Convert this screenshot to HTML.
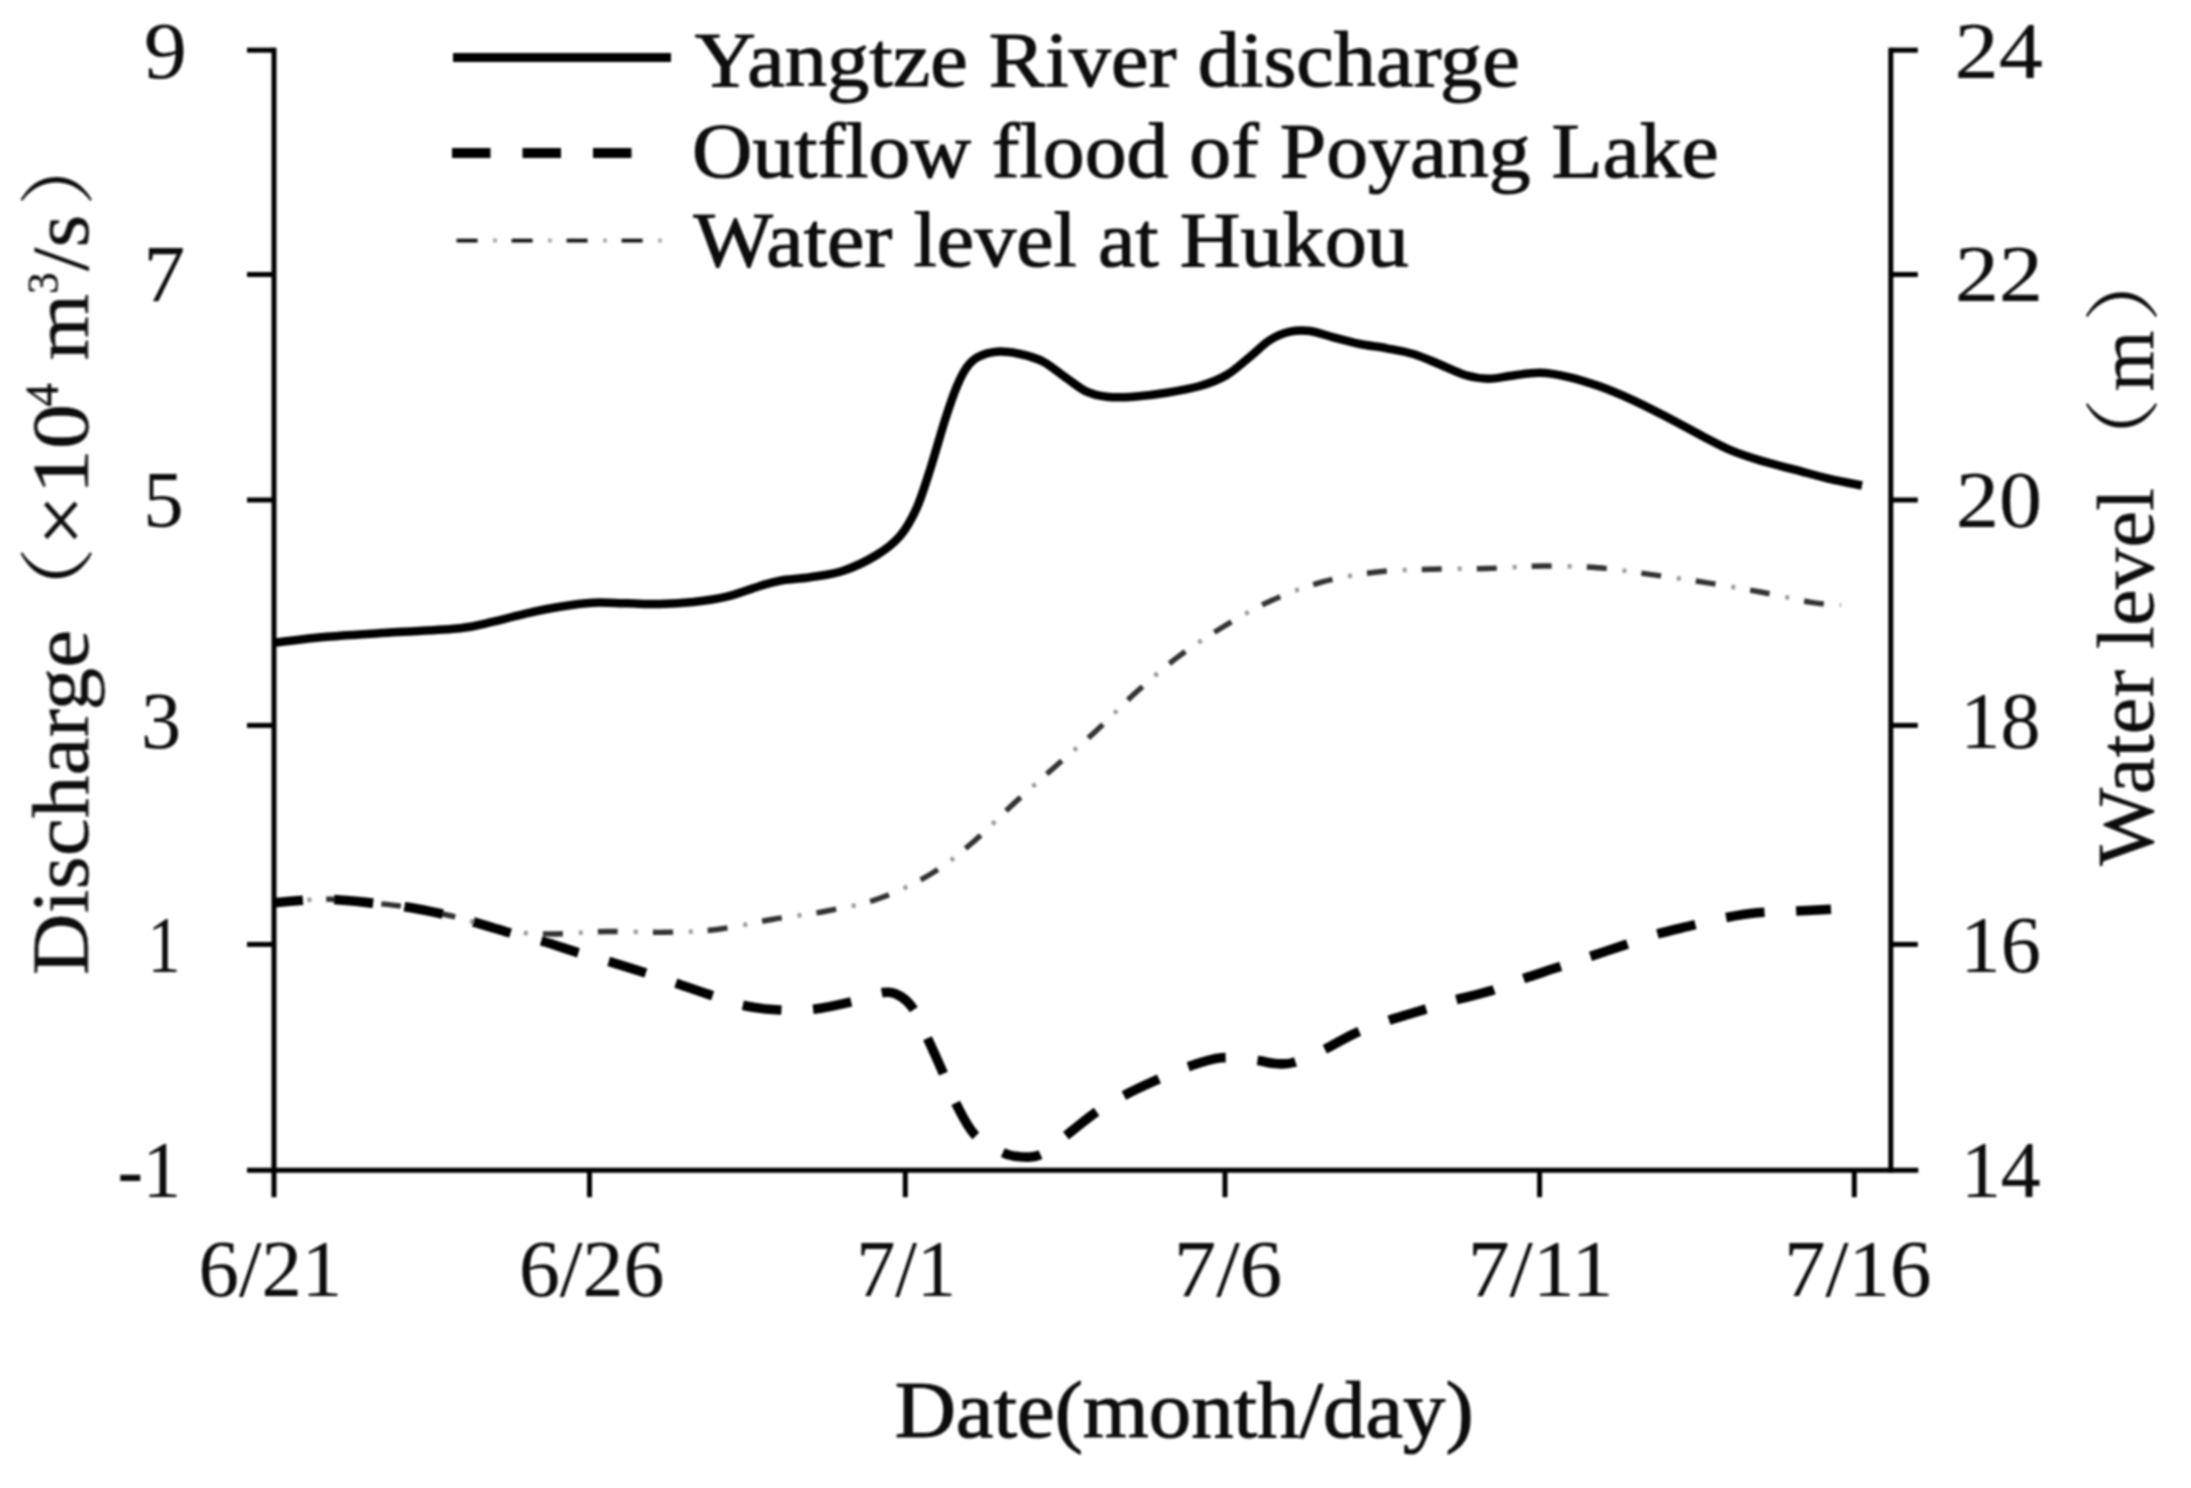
<!DOCTYPE html><html><head><meta charset="utf-8"><title>Discharge and water level</title>
<style>html,body{margin:0;padding:0;background:#fff;}body{width:2191px;height:1488px;overflow:hidden;}svg{display:block;}text{font-family:"Liberation Serif","Noto Serif CJK SC",serif;fill:#111;stroke:#111;stroke-width:1.1px;stroke-linejoin:round;}text.cjk{font-family:"Noto Serif CJK SC","Noto Sans CJK SC",serif;stroke-width:0px;}text.v{stroke-width:0.4px;}text.v tspan.cjk{font-family:"Noto Serif CJK SC","Noto Sans CJK SC",serif;stroke-width:0px;}text.d{stroke-width:0.2px;}</style></head><body>
<svg width="2191" height="1488" viewBox="0 0 2191 1488">
<defs><filter id="soft" x="-2%" y="-2%" width="104%" height="104%"><feGaussianBlur stdDeviation="1.3"/></filter></defs>
<rect width="100%" height="100%" fill="#fff"/>
<g filter="url(#soft)">
<g stroke="#000" stroke-width="5" fill="none" stroke-linecap="butt">
<line x1="274" y1="47.7" x2="274" y2="1197.2"/>
<line x1="1890.8" y1="47.7" x2="1890.8" y2="1172.7"/>
<line x1="247" y1="1170.2" x2="1918.3" y2="1170.2"/>
<line x1="247" y1="50.2" x2="274" y2="50.2"/>
<line x1="1890.8" y1="50.2" x2="1917.8" y2="50.2"/>
<line x1="247" y1="274.5" x2="274" y2="274.5"/>
<line x1="1890.8" y1="274.5" x2="1917.8" y2="274.5"/>
<line x1="247" y1="500" x2="274" y2="500"/>
<line x1="1890.8" y1="500" x2="1917.8" y2="500"/>
<line x1="247" y1="725.4" x2="274" y2="725.4"/>
<line x1="1890.8" y1="725.4" x2="1917.8" y2="725.4"/>
<line x1="247" y1="944.4" x2="274" y2="944.4"/>
<line x1="1890.8" y1="944.4" x2="1917.8" y2="944.4"/>
<line x1="589.5" y1="1170.2" x2="589.5" y2="1197.2"/>
<line x1="905.3" y1="1170.2" x2="905.3" y2="1197.2"/>
<line x1="1225" y1="1170.2" x2="1225" y2="1197.2"/>
<line x1="1539.6" y1="1170.2" x2="1539.6" y2="1197.2"/>
<line x1="1854.3" y1="1170.2" x2="1854.3" y2="1197.2"/>
</g>
<text class="d" transform="translate(143.96,77.50) scale(1.0561,1)" font-size="81">9</text>
<text class="d" transform="translate(143.39,301.20) scale(1.0303,1)" font-size="81">7</text>
<text class="d" transform="translate(143.18,527.30) scale(0.9938,1)" font-size="81">5</text>
<text class="d" transform="translate(141.08,747.50) scale(0.9910,1)" font-size="81">3</text>
<text class="d" transform="translate(147.65,972.10) scale(0.8070,1)" font-size="81">1</text>
<text class="d" transform="translate(117.48,1196.70) scale(0.9406,1)" font-size="81">-1</text>
<text class="d" transform="translate(1954.48,77.50) scale(1.0911,1)" font-size="81">24</text>
<text class="d" transform="translate(1955.00,301.20) scale(1.0849,1)" font-size="81">22</text>
<text class="d" transform="translate(1955.99,527.30) scale(1.0604,1)" font-size="81">20</text>
<text class="d" transform="translate(1960.59,747.50) scale(0.9873,1)" font-size="81">18</text>
<text class="d" transform="translate(1960.57,972.10) scale(0.9902,1)" font-size="81">16</text>
<text class="d" transform="translate(1960.90,1196.70) scale(0.9856,1)" font-size="81">14</text>
<text class="d" transform="translate(198.61,1296.20) scale(0.9967,1)" font-size="81">6/21</text>
<text class="d" transform="translate(518.96,1296.20) scale(1.0101,1)" font-size="81">6/26</text>
<text class="d" transform="translate(856.24,1296.20) scale(0.9647,1)" font-size="81">7/1</text>
<text class="d" transform="translate(1173.80,1296.20) scale(1.0486,1)" font-size="81">7/6</text>
<text class="d" transform="translate(1467.68,1296.20) scale(1.0328,1)" font-size="81">7/11</text>
<text class="d" transform="translate(1783.92,1296.20) scale(1.0239,1)" font-size="81">7/16</text>
<text transform="translate(894.65,1437.30) scale(1.0466,1)" font-size="81">Date(month/day)</text>
<text class="v" transform="translate(87.70,0) rotate(-90)"><tspan x="-975.18" y="0.00" font-size="81" textLength="345.37" lengthAdjust="spacingAndGlyphs">Discharge</tspan><tspan class="cjk" x="-637.17" y="-3.00" font-size="76" textLength="90.85" lengthAdjust="spacingAndGlyphs">（</tspan><tspan x="-545.90" y="0.00" font-size="81" textLength="142.18" lengthAdjust="spacingAndGlyphs">×10</tspan><tspan x="-406.77" y="-30.00" font-size="46" textLength="23.53" lengthAdjust="spacingAndGlyphs">4</tspan><tspan x="-360.46" y="0.00" font-size="81" textLength="66.78" lengthAdjust="spacingAndGlyphs">m</tspan><tspan x="-293.97" y="-30.00" font-size="44" textLength="21.70" lengthAdjust="spacingAndGlyphs">3</tspan><tspan x="-271.00" y="0.00" font-size="81" textLength="56.15" lengthAdjust="spacingAndGlyphs">/s</tspan><tspan class="cjk" x="-206.24" y="-3.00" font-size="76" textLength="83.86" lengthAdjust="spacingAndGlyphs">）</tspan></text>
<text class="v" transform="translate(2153.00,0) rotate(-90)"><tspan x="-866.00" y="0.00" font-size="81" textLength="378.15" lengthAdjust="spacingAndGlyphs">Water level</tspan><tspan class="cjk" x="-483.26" y="-3.00" font-size="76" textLength="85.61" lengthAdjust="spacingAndGlyphs">（</tspan><tspan x="-391.39" y="0.00" font-size="81" textLength="60.90" lengthAdjust="spacingAndGlyphs">m</tspan><tspan class="cjk" x="-322.62" y="-3.00" font-size="76" textLength="86.66" lengthAdjust="spacingAndGlyphs">）</tspan></text>
<line x1="453" y1="57.5" x2="671" y2="57.5" stroke="#000" stroke-width="9"/>
<line x1="452" y1="153" x2="640" y2="153" stroke="#000" stroke-width="10" stroke-dasharray="38.5 32"/>
<line x1="456.6" y1="240.6" x2="668" y2="240.6" stroke="#aaa" stroke-width="4" stroke-dasharray="4 51" stroke-dashoffset="-36.4"/>
<line x1="456.6" y1="240.6" x2="668" y2="240.6" stroke="#111" stroke-width="3.6" stroke-dasharray="21 34"/>
<text transform="translate(694.70,86.00) scale(1.0697,1)" font-size="79">Yangtze River discharge</text>
<text transform="translate(692.06,176.50) scale(1.0589,1)" font-size="79">Outflow flood of Poyang Lake</text>
<text transform="translate(693.60,266.00) scale(1.0653,1)" font-size="79">Water level at Hukou</text>
<path id="cw2" d="M274.0,902.7 C279.4,902.2 297.1,900.6 306.7,900.0 C316.3,899.4 320.3,898.8 331.7,899.3 C343.1,899.8 362.2,902.0 375.0,903.3 C387.8,904.6 395.5,905.2 408.3,907.3 C421.1,909.4 440.6,913.5 451.7,916.0 C462.8,918.5 465.0,919.7 475.0,922.3 C485.0,924.9 498.7,929.5 511.7,931.5 C524.7,933.5 537.2,934.0 553.0,934.0 C568.8,934.0 588.0,931.8 606.7,931.5 C625.4,931.2 646.7,932.6 665.0,932.3 C683.3,932.0 698.9,931.6 716.7,929.5 C734.5,927.4 753.4,922.6 771.7,919.5 C790.0,916.4 808.9,914.5 826.7,911.0 C844.5,907.5 861.1,904.9 878.3,898.8 C895.5,892.7 914.4,883.8 930.0,874.5 C945.6,865.2 957.8,855.0 971.7,843.3 C985.6,831.5 999.4,816.8 1013.3,804.0 C1027.2,791.2 1041.2,778.9 1055.0,766.7 C1068.8,754.5 1082.7,743.2 1096.0,731.0 C1109.3,718.8 1121.3,705.7 1135.0,693.3 C1148.7,680.9 1163.6,667.8 1178.3,656.7 C1193.0,645.6 1207.8,636.1 1223.3,626.7 C1238.8,617.3 1254.8,608.0 1271.5,600.5 C1288.2,593.0 1305.7,586.5 1323.3,581.7 C1340.9,577.0 1359.0,574.1 1377.0,572.0 C1395.0,569.9 1413.2,569.8 1431.5,569.2 C1449.8,568.6 1468.6,569.0 1487.0,568.5 C1505.4,568.0 1523.5,566.1 1542.0,566.0 C1560.5,565.9 1579.8,566.4 1598.0,567.8 C1616.2,569.2 1633.5,572.1 1651.5,574.6 C1669.5,577.1 1687.8,579.7 1706.0,582.6 C1724.2,585.5 1742.7,588.7 1760.5,592.0 C1778.3,595.3 1799.6,600.4 1813.0,602.6 C1826.4,604.8 1836.3,604.6 1841.0,605.0" fill="none" stroke="#999" stroke-width="4.5" stroke-dasharray="4 51" stroke-dashoffset="-33.4"/>
<path id="cw" d="M274.0,902.7 C279.4,902.2 297.1,900.6 306.7,900.0 C316.3,899.4 320.3,898.8 331.7,899.3 C343.1,899.8 362.2,902.0 375.0,903.3 C387.8,904.6 395.5,905.2 408.3,907.3 C421.1,909.4 440.6,913.5 451.7,916.0 C462.8,918.5 465.0,919.7 475.0,922.3 C485.0,924.9 498.7,929.5 511.7,931.5 C524.7,933.5 537.2,934.0 553.0,934.0 C568.8,934.0 588.0,931.8 606.7,931.5 C625.4,931.2 646.7,932.6 665.0,932.3 C683.3,932.0 698.9,931.6 716.7,929.5 C734.5,927.4 753.4,922.6 771.7,919.5 C790.0,916.4 808.9,914.5 826.7,911.0 C844.5,907.5 861.1,904.9 878.3,898.8 C895.5,892.7 914.4,883.8 930.0,874.5 C945.6,865.2 957.8,855.0 971.7,843.3 C985.6,831.5 999.4,816.8 1013.3,804.0 C1027.2,791.2 1041.2,778.9 1055.0,766.7 C1068.8,754.5 1082.7,743.2 1096.0,731.0 C1109.3,718.8 1121.3,705.7 1135.0,693.3 C1148.7,680.9 1163.6,667.8 1178.3,656.7 C1193.0,645.6 1207.8,636.1 1223.3,626.7 C1238.8,617.3 1254.8,608.0 1271.5,600.5 C1288.2,593.0 1305.7,586.5 1323.3,581.7 C1340.9,577.0 1359.0,574.1 1377.0,572.0 C1395.0,569.9 1413.2,569.8 1431.5,569.2 C1449.8,568.6 1468.6,569.0 1487.0,568.5 C1505.4,568.0 1523.5,566.1 1542.0,566.0 C1560.5,565.9 1579.8,566.4 1598.0,567.8 C1616.2,569.2 1633.5,572.1 1651.5,574.6 C1669.5,577.1 1687.8,579.7 1706.0,582.6 C1724.2,585.5 1742.7,588.7 1760.5,592.0 C1778.3,595.3 1799.6,600.4 1813.0,602.6 C1826.4,604.8 1836.3,604.6 1841.0,605.0" fill="none" stroke="#333" stroke-width="5.4" stroke-dasharray="20 35" stroke-dashoffset="2.5" stroke-linejoin="round"/>
<path id="cs" d="M274.0,642.7 C282.8,641.7 306.8,638.4 326.7,636.7 C346.6,635.0 371.1,633.7 393.3,632.3 C415.5,630.9 443.3,630.1 460.0,628.3 C476.7,626.5 482.2,624.2 493.3,621.7 C504.4,619.2 515.6,615.8 526.7,613.3 C537.8,610.8 548.9,608.5 560.0,606.7 C571.1,604.9 582.2,603.3 593.3,602.7 C604.4,602.1 615.6,603.1 626.7,603.3 C637.8,603.5 648.9,604.2 660.0,604.0 C671.1,603.8 682.2,603.2 693.3,602.0 C704.4,600.8 715.6,599.4 726.7,596.7 C737.8,594.0 751.1,588.7 760.0,586.0 C768.9,583.3 771.7,582.2 780.0,580.7 C788.3,579.2 799.5,579.0 810.0,577.3 C820.5,575.6 832.2,574.4 843.3,570.7 C854.4,567.0 867.2,560.8 876.7,555.0 C886.2,549.2 893.3,543.8 900.0,536.0 C906.7,528.2 911.5,519.5 916.7,508.0 C921.9,496.4 926.3,481.4 931.0,466.7 C935.7,452.0 940.7,433.4 945.0,420.0 C949.3,406.6 953.3,394.8 957.0,386.0 C960.7,377.2 963.5,371.8 967.0,367.0 C970.5,362.2 973.0,359.6 978.0,357.0 C983.0,354.4 989.7,352.2 996.7,351.7 C1003.7,351.2 1012.2,352.3 1020.0,354.0 C1027.8,355.7 1035.5,357.6 1043.3,361.7 C1051.1,365.8 1059.5,373.3 1066.7,378.3 C1073.9,383.3 1080.0,388.6 1086.7,391.7 C1093.4,394.8 1098.9,395.9 1106.7,396.7 C1114.5,397.5 1123.3,397.4 1133.3,396.7 C1143.3,396.0 1155.6,394.5 1166.7,392.7 C1177.8,390.9 1190.0,388.9 1200.0,386.0 C1210.0,383.1 1218.4,379.9 1226.7,375.0 C1235.0,370.1 1242.8,362.5 1250.0,356.7 C1257.2,350.9 1263.3,344.2 1270.0,340.0 C1276.7,335.8 1283.3,333.2 1290.0,331.7 C1296.7,330.2 1302.8,330.1 1310.0,331.0 C1317.2,331.9 1325.0,335.1 1333.3,337.3 C1341.6,339.5 1351.1,342.2 1360.0,344.0 C1368.9,345.8 1377.8,346.6 1386.7,348.3 C1395.6,350.0 1404.4,351.3 1413.3,354.0 C1422.2,356.7 1431.4,361.0 1440.0,364.5 C1448.6,368.0 1456.9,372.6 1465.0,375.0 C1473.1,377.4 1480.7,378.6 1488.5,378.7 C1496.3,378.8 1503.2,376.7 1511.7,375.7 C1520.2,374.7 1530.4,372.6 1539.7,372.8 C1549.0,373.0 1557.5,374.5 1567.6,376.8 C1577.7,379.1 1589.3,382.7 1600.2,386.6 C1611.1,390.5 1621.5,395.0 1632.8,400.1 C1644.0,405.2 1656.1,411.5 1667.7,417.5 C1679.3,423.5 1692.1,430.8 1702.6,436.2 C1713.1,441.6 1720.8,446.0 1730.5,450.1 C1740.2,454.2 1749.9,457.3 1760.8,460.6 C1771.7,463.9 1784.1,466.8 1795.7,469.9 C1807.3,473.0 1819.5,476.6 1830.6,479.2 C1841.6,481.8 1856.8,484.4 1862.0,485.5" fill="none" stroke="#000" stroke-width="8.5" stroke-linecap="butt" stroke-linejoin="round"/>
<path id="cd" d="M274.0,902.7 C279.4,902.2 297.1,900.6 306.7,900.0 C316.3,899.4 320.3,898.8 331.7,899.3 C343.1,899.8 362.2,902.0 375.0,903.3 C387.8,904.6 395.5,905.2 408.3,907.3 C421.1,909.4 440.6,913.5 451.7,916.0 C462.8,918.5 465.0,919.4 475.0,922.3 C485.0,925.2 500.3,930.1 511.7,933.3 C523.1,936.5 531.9,938.2 543.3,941.5 C554.7,944.8 568.6,949.8 580.0,953.3 C591.4,956.8 600.6,959.0 611.7,962.3 C622.8,965.6 635.6,969.7 646.7,973.3 C657.8,976.9 667.2,980.2 678.3,984.0 C689.4,987.8 702.2,992.4 713.3,996.0 C724.4,999.6 733.9,1003.4 745.0,1005.7 C756.1,1008.0 768.6,1009.4 780.0,1010.0 C791.4,1010.6 801.3,1010.7 813.3,1009.3 C825.2,1007.9 840.0,1004.5 851.7,1001.7 C863.4,998.9 875.2,993.5 883.3,992.5 C891.3,991.5 894.9,993.1 900.0,996.0 C905.1,998.9 909.3,1002.7 914.0,1010.0 C918.7,1017.3 923.4,1029.5 928.3,1040.0 C933.2,1050.5 938.6,1062.5 943.3,1073.3 C948.0,1084.1 951.4,1094.7 956.7,1105.0 C962.0,1115.3 967.3,1127.0 975.0,1135.0 C982.7,1143.0 995.0,1149.0 1003.0,1152.7 C1011.0,1156.4 1016.5,1156.8 1023.0,1157.0 C1029.5,1157.2 1034.4,1157.7 1041.7,1154.0 C1049.0,1150.3 1057.5,1142.0 1066.7,1135.0 C1075.9,1128.0 1087.0,1118.4 1096.7,1111.7 C1106.4,1105.0 1115.0,1100.3 1125.0,1095.0 C1135.0,1089.7 1146.2,1084.7 1156.7,1080.0 C1167.2,1075.3 1177.5,1070.4 1188.3,1066.7 C1199.1,1063.0 1210.3,1058.8 1221.7,1057.8 C1233.1,1056.8 1247.8,1059.5 1256.7,1060.5 C1265.6,1061.5 1268.9,1063.2 1275.0,1063.5 C1281.1,1063.8 1285.2,1064.8 1293.3,1062.5 C1301.3,1060.2 1313.0,1054.9 1323.3,1050.0 C1333.6,1045.1 1344.2,1038.2 1355.0,1033.3 C1365.8,1028.4 1377.2,1024.3 1388.3,1020.5 C1399.4,1016.7 1410.8,1013.6 1421.7,1010.3 C1432.6,1007.0 1442.1,1003.7 1453.4,1000.5 C1464.7,997.3 1478.3,994.7 1489.5,991.2 C1500.7,987.7 1509.6,983.4 1520.8,979.5 C1532.0,975.6 1545.3,971.5 1556.4,967.8 C1567.5,964.1 1576.0,961.2 1587.2,957.5 C1598.4,953.8 1612.4,949.1 1623.5,945.4 C1634.6,941.6 1642.5,938.3 1653.7,935.0 C1665.0,931.7 1679.5,928.5 1691.0,925.7 C1702.5,922.9 1711.4,920.4 1722.4,918.2 C1733.5,916.1 1745.5,914.0 1757.3,912.8 C1769.1,911.6 1781.1,911.8 1793.4,911.2 C1805.7,910.6 1824.7,909.5 1831.0,909.2" fill="none" stroke="#000" stroke-width="9.6" stroke-dasharray="38.8 31.75" stroke-dashoffset="10" stroke-linejoin="round"/>
</g></svg></body></html>
